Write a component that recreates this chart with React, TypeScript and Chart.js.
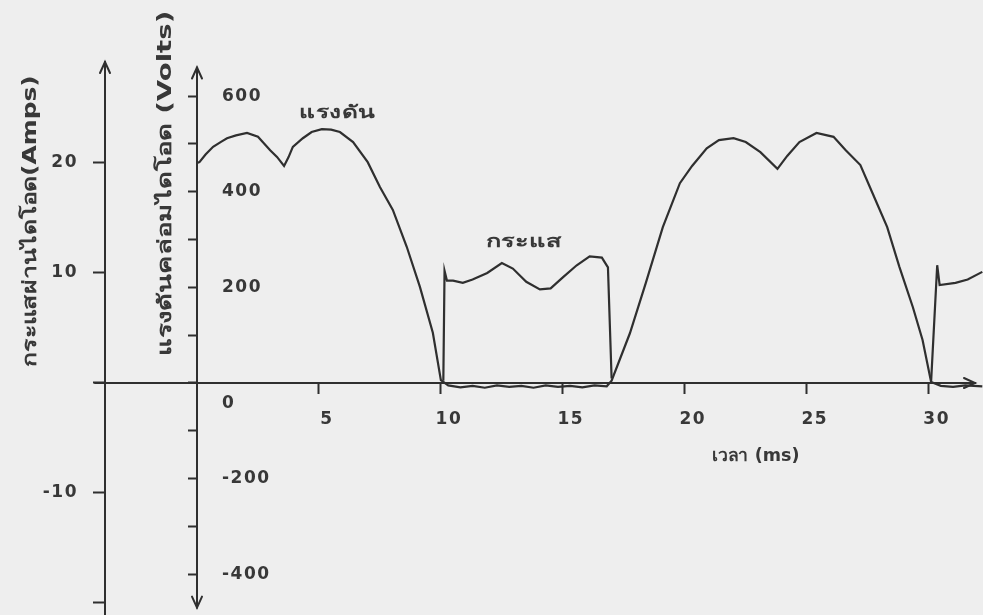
import React, { useEffect, useRef } from 'react';
import { Chart, registerables } from 'chart.js';

Chart.register(...registerables);

// ---- data (time in ms, voltage in V, current in A) ----
const timeV = [
  0, 0.1, 0.35, 0.66, 1.0, 1.23, 1.6, 2.05, 2.5, 3.0, 3.28, 3.57, 3.75, 3.93, 4.34, 4.7, 5.12, 5.5, 5.86,
  6.4, 7.0, 7.5, 8.03, 8.6, 9.14, 9.67, 10.0,
  10.3, 10.8, 11.3, 11.8, 12.3, 12.8, 13.3, 13.8, 14.3, 14.8, 15.3, 15.8, 16.3, 16.8,
  17.0, 17.75, 18.4, 19.1, 19.8, 20.3, 20.9, 21.4, 22.0, 22.5, 23.1, 23.8, 24.2, 24.7, 25.4, 26.1, 26.6,
  27.2, 27.7, 28.3, 28.8, 29.35, 29.75, 30.1,
  30.5, 31.0, 31.5, 32.2,
];
const voltV = [
  460, 462, 478, 494, 505, 512, 518, 523, 515, 487, 473, 454, 472, 494, 512, 525, 531, 530, 525,
  504, 462, 410, 362, 285, 201, 105, 6,
  -5, -9, -6, -10, -5, -8, -6, -10, -5, -8, -6, -9, -5, -7,
  5, 104, 209, 326, 418, 454, 491, 508, 512, 504, 483, 448, 475, 504, 523, 515, 487,
  456, 397, 326, 243, 159, 90, 2,
  -6, -8, -5, -7,
];
const timeI = [
  10.1, 10.15, 10.25, 10.5, 10.9, 11.3, 11.9, 12.5, 12.95, 13.5, 14.06, 14.5, 15.0, 15.57, 16.1, 16.6, 16.85, 17.0,
  17.05,
  30.1, 30.35, 30.45, 31.1, 31.6, 32.2,
];
const currI = [
  0.2, 10.2, 9.3, 9.3, 9.1, 9.4, 10.0, 10.9, 10.4, 9.2, 8.5, 8.6, 9.6, 10.7, 11.5, 11.4, 10.5, 0.4,
  null,
  0.1, 10.7, 8.9, 9.1, 9.4, 10.1,
];

// ---- ticks ----
const timeTicks = [5, 10, 15, 20, 25, 30];
const voltTicks = [-400, -300, -200, -100, 0, 100, 200, 300, 400, 500, 600];
const voltLabeled = [-400, -200, 200, 400, 600];
const currTicks = [-20, -10, 0, 10, 20];
const currLabeled = [-10, 10, 20];

// ---- axis ranges ----
const X_MIN = 0;
const X_MAX = 31.9;
const V_MIN = -485.4;
const V_MAX = 671.5;
const I_MIN = -21.1;
const I_MAX = 29.18;
const V_AXIS_TOP = 660;
const V_AXIS_BOTTOM = -470;

// ---- texts ----
const TITLE_I = 'กระแสผ่านไดโอด(Amps)';
const TITLE_V = 'แรงดันคล่อมไดโอด (Volts)';
const LABEL_V = 'แรงดัน';
const LABEL_I = 'กระแส';
const LABEL_T = 'เวลา (ms)';

const INK = '#2f2f2f';
const TEXT = '#383838';
const PAPER = '#eeeeee';
const FONT = 'DejaVu Sans';

const tickFont = { family: FONT, size: 17, weight: 'bold' };

const extras = {
  id: 'extras',
  beforeDraw(chart: any) {
    const { ctx, width, height } = chart;
    ctx.save();
    ctx.fillStyle = PAPER;
    ctx.fillRect(0, 0, width, height);
    ctx.restore();
    // wide, typewriter-like spacing for the tick labels
    (ctx as any).letterSpacing = '1.5px';
  },
  afterDraw(chart: any) {
    const { ctx, chartArea, scales } = chart;
    const xs = scales.x;
    const yV = scales.yV;
    const yI = scales.yI;
    const y0 = yV.getPixelForValue(0);
    const xI = yI.right;
    const xV = yV.right;
    ctx.save();
    (ctx as any).letterSpacing = '0px';
    ctx.strokeStyle = INK;
    ctx.lineWidth = 2;
    ctx.lineCap = 'round';
    // time axis continues left to the current axis
    ctx.beginPath();
    ctx.moveTo(xI - 10, y0);
    ctx.lineTo(xV, y0);
    ctx.stroke();
    // voltage axis line
    const vTop = yV.getPixelForValue(V_AXIS_TOP);
    const vBot = yV.getPixelForValue(V_AXIS_BOTTOM);
    ctx.beginPath();
    ctx.moveTo(xV, vTop);
    ctx.lineTo(xV, vBot);
    ctx.stroke();
    const arrow = (x: number, y: number, dir: string) => {
      const len = 11;
      const half = 5;
      ctx.beginPath();
      if (dir === 'up') {
        ctx.moveTo(x - half, y + len); ctx.lineTo(x, y); ctx.lineTo(x + half, y + len);
      } else if (dir === 'down') {
        ctx.moveTo(x - half, y - len); ctx.lineTo(x, y); ctx.lineTo(x + half, y - len);
      } else {
        ctx.moveTo(x - len, y - half); ctx.lineTo(x, y); ctx.lineTo(x - len, y + half);
      }
      ctx.stroke();
    };
    arrow(xI, chartArea.top, 'up');
    arrow(xV, vTop, 'up');
    arrow(xV, vBot, 'down');
    arrow(xs.getPixelForValue(X_MAX), y0, 'right');

    ctx.fillStyle = TEXT;
    ctx.textBaseline = 'middle';
    ctx.textAlign = 'center';
    const drawText = (text: string, x: number, y: number, size: number, width: number, rotate: boolean) => {
      ctx.save();
      ctx.font = `bold ${size}px "${FONT}"`;
      const w = ctx.measureText(text).width;
      ctx.translate(x, y);
      if (rotate) ctx.rotate(-Math.PI / 2);
      ctx.scale(width / w, 1);
      ctx.fillText(text, 0, 0);
      ctx.restore();
    };
    // rotated axis titles
    drawText(TITLE_I, xI - 74, yI.getPixelForValue(14.7), 19, 292, true);
    drawText(TITLE_V, xV - 31, yV.getPixelForValue(418), 19, 345, true);
    // curve labels
    drawText(LABEL_V, xs.getPixelForValue(5.74), yV.getPixelForValue(565), 18, 75, false);
    drawText(LABEL_I, xs.getPixelForValue(13.4), yI.getPixelForValue(12.8), 18, 76, false);
    drawText(LABEL_T, xs.getPixelForValue(22.9), yV.getPixelForValue(-153), 17, 88, false);
    ctx.restore();
  },
};

export default function App() {
  const ref = useRef<HTMLCanvasElement | null>(null);
  useEffect(() => {
    if (!ref.current) return;
    const chart = new Chart(ref.current, {
      type: 'line',
      data: {
        datasets: [
          {
            label: 'แรงดัน',
            data: timeV.map((t, i) => ({ x: t, y: voltV[i] })),
            yAxisID: 'yV',
            borderColor: INK,
            borderWidth: 2.2,
            pointRadius: 0,
            tension: 0,
            clip: false as any,
          },
          {
            label: 'กระแส',
            data: timeI.map((t, i) => ({ x: t, y: currI[i] })),
            yAxisID: 'yI',
            borderColor: INK,
            borderWidth: 2.2,
            pointRadius: 0,
            tension: 0,
            spanGaps: false,
            clip: false as any,
          },
        ],
      },
      options: {
        animation: false,
        responsive: false,
        events: [],
        layout: { padding: { left: 0, top: 62, right: 8, bottom: 0 } },
        plugins: { legend: { display: false }, tooltip: { enabled: false }, title: { display: false } },
        scales: {
          x: {
            type: 'linear',
            min: X_MIN,
            max: X_MAX,
            position: { yV: 0 } as any,
            afterBuildTicks: (s: any) => { s.ticks = timeTicks.map((v) => ({ value: v })); },
            afterFit: (s: any) => { s.paddingLeft = 0; s.paddingRight = 0; s.paddingTop = 0; s.paddingBottom = 0; },
            ticks: { font: tickFont, color: TEXT, padding: 16, labelOffset: 8, maxRotation: 0, autoSkip: false },
            grid: { display: true, drawOnChartArea: false, drawTicks: true, tickLength: 10, tickColor: INK, tickWidth: 2 },
            border: { display: true, color: INK, width: 2 },
          },
          yI: {
            type: 'linear',
            position: 'left',
            weight: 1,
            min: I_MIN,
            max: I_MAX,
            afterBuildTicks: (s: any) => { s.ticks = currTicks.map((v) => ({ value: v })); },
            afterFit: (s: any) => { s.width = 105; s.paddingTop = 0; s.paddingBottom = 0; s.paddingLeft = 0; s.paddingRight = 0; },
            ticks: {
              font: tickFont,
              color: TEXT,
              padding: 15,
              autoSkip: false,
              callback: (v: any) => (currLabeled.includes(Number(v)) ? String(v) : ''),
            },
            grid: { display: true, drawOnChartArea: false, drawTicks: true, tickLength: 12, tickColor: INK, tickWidth: 2 },
            border: { display: true, color: INK, width: 2 },
          },
          yV: {
            type: 'linear',
            position: 'left',
            weight: 0,
            min: V_MIN,
            max: V_MAX,
            afterBuildTicks: (s: any) => { s.ticks = voltTicks.map((v) => ({ value: v })); },
            afterFit: (s: any) => { s.width = 92; s.paddingTop = 0; s.paddingBottom = 0; s.paddingLeft = 0; s.paddingRight = 0; },
            ticks: {
              font: tickFont,
              color: TEXT,
              mirror: true,
              padding: 25,
              autoSkip: false,
              callback: (v: any) => {
                const n = Number(v);
                if (n === 0) return ['', '', '0'];
                return voltLabeled.includes(n) ? String(n) : '';
              },
            },
            grid: { display: true, drawOnChartArea: false, drawTicks: true, tickLength: 9, tickColor: INK, tickWidth: 2 },
            border: { display: false },
          },
        },
      } as any,
      plugins: [extras],
    });
    return () => chart.destroy();
  }, []);
  return (
    <div style={{ position: 'absolute', left: 0, top: 0, width: 983, height: 615, background: PAPER }}>
      <canvas ref={ref} width={983} height={615} style={{ display: 'block' }} />
    </div>
  );
}
